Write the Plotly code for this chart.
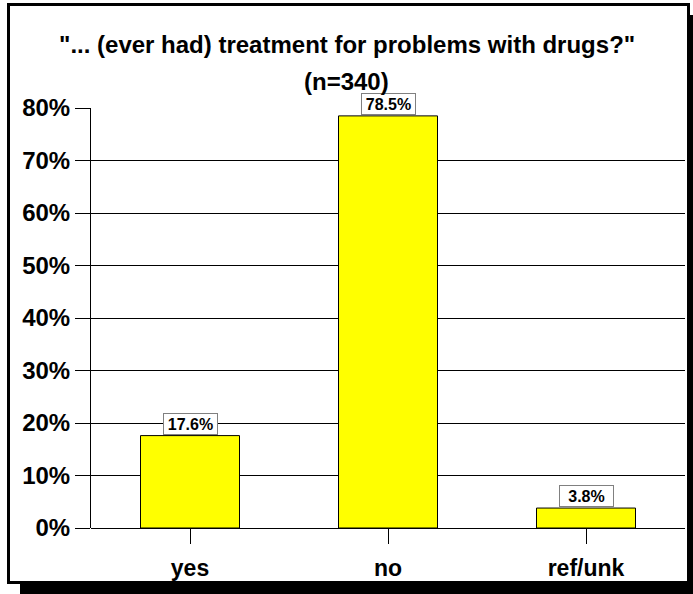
import plotly.graph_objects as go

categories = ["yes", "no", "ref/unk"]
values = [17.6, 78.5, 3.8]
labels = ["17.6%", "78.5%", "3.8%"]
y_ticks = [0, 10, 20, 30, 40, 50, 60, 70, 80]
y_tick_labels = ["0%", "10%", "20%", "30%", "40%", "50%", "60%", "70%", "80%"]
title_text = '"... (ever had) treatment for problems with drugs?"'
subtitle_text = "(n=340)"

W, H = 693, 594
FONT = "Liberation Sans, Arial, sans-serif"

# plot area in pixels
x0, x1 = 91, 685
y_top, y_bot = 108, 528

fig = go.Figure()
fig.add_trace(go.Bar(
    x=categories, y=values, width=0.5,
    marker=dict(color="#FFFF00", line=dict(color="#000000", width=1)),
    showlegend=False, hoverinfo="skip",
))

for c, v, t in zip(categories, values, labels):
    fig.add_annotation(
        x=c, y=v, xref="x", yref="y", text="<b>%s</b>" % t, showarrow=False,
        yanchor="bottom", yshift=1, width=51, height=18,
        font=dict(family=FONT, size=16, color="#000000"),
        bgcolor="#FFFFFF", bordercolor="#808080", borderwidth=1, borderpad=1,
    )

# title
fig.add_annotation(x=0.5, y=1 - 44 / H, xref="paper", yref="paper",
                   text="<b>%s</b>" % title_text, showarrow=False,
                   font=dict(family=FONT, size=24, color="#000000"), yanchor="middle")
fig.add_annotation(x=0.5, y=1 - 81 / H, xref="paper", yref="paper",
                   text="<b>%s</b>" % subtitle_text, showarrow=False,
                   font=dict(family=FONT, size=24, color="#000000"), yanchor="middle")

# shadow + frame
fig.add_shape(type="rect", xref="paper", yref="paper",
              x0=20 / W, x1=1.05, y0=-0.05, y1=1 - 15 / H,
              fillcolor="#000000", line=dict(width=0), layer="below")
fig.add_shape(type="rect", xref="paper", yref="paper",
              x0=8.5 / W, x1=688.5 / W, y0=1 - 582.5 / H, y1=1 - 4.5 / H,
              fillcolor="#FFFFFF", line=dict(color="#000000", width=3), layer="below")

fig.update_layout(
    width=W, height=H,
    margin=dict(l=0, r=0, t=0, b=0, autoexpand=False),
    paper_bgcolor="#FFFFFF", plot_bgcolor="rgba(0,0,0,0)",
    bargap=0.5,
    xaxis=dict(domain=[x0 / W, x1 / W], showgrid=False, showline=False,
               automargin=False, ticklabelstandoff=4,
               ticks="outside", ticklen=15, tickcolor="#000000", tickwidth=1,
               tickfont=dict(family=FONT, size=23, color="#000000"),
               tickprefix="<b>", ticksuffix="</b>", fixedrange=True),
    yaxis=dict(domain=[1 - y_bot / H, 1 - y_top / H], range=[0, 80],
               automargin=False,
               tickvals=y_ticks, ticktext=["<b>%s</b>" % t for t in y_tick_labels],
               showgrid=True, gridcolor="#000000", gridwidth=1,
               showline=True, linecolor="#000000", linewidth=1,
               ticks="outside", ticklen=15, tickcolor="#000000", tickwidth=1,
               tickfont=dict(family=FONT, size=24, color="#000000"),
               zeroline=True, zerolinecolor="#000000", zerolinewidth=1,
               fixedrange=True),
)

fig.write_html("out.html", config={"displayModeBar": False},
               post_script="document.body.style.margin='0';")
